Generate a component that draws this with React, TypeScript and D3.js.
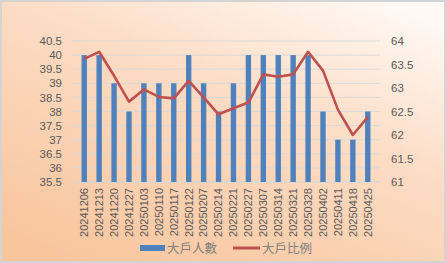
import React, { useRef, useEffect } from 'react';
import * as d3 from 'd3';

const dates = ['20241206', '20241213', '20241220', '20241227', '20250103', '20250110', '20250117', '20250122', '20250207', '20250214',
    '20250221', '20250227', '20250307', '20250314', '20250321', '20250328', '20250402', '20250411', '20250418', '20250425'];
const holders = [40, 40, 39, 38, 39, 39, 39, 40, 39, 38, 39, 40, 40, 40, 40, 40, 38, 37, 37, 38];
const ratio = [63.62, 63.77, 63.26, 62.71, 62.97, 62.81, 62.78, 63.15, 62.8, 62.44,
    62.57, 62.69, 63.29, 63.24, 63.29, 63.77, 63.37, 62.54, 62.0, 62.38];
const leftTicks = [35.5, 36, 36.5, 37, 37.5, 38, 38.5, 39, 39.5, 40, 40.5];
const rightTicks = [61, 61.5, 62, 62.5, 63, 63.5, 64];
const seriesNames = ['大戶人數', '大戶比例'];

const App = () => {
    const svgRef = useRef(null);

    useEffect(() => {
        const width = 446;
        const height = 263;
        const margin = { top: 41, right: 66, bottom: 81, left: 72 };
        const svg = d3.select(svgRef.current);
        svg.selectAll("*").remove();
        svg.attr("width", width).attr("height", height);

        const defs = svg.append("defs");
        const grad = defs.append("linearGradient").attr("id", "bg")
            .attr("x1", "85%").attr("y1", "0%").attr("x2", "15%").attr("y2", "100%");
        grad.append("stop").attr("offset", "0%").attr("stop-color", "#fff8f3");
        grad.append("stop").attr("offset", "40%").attr("stop-color", "#fcdcc4");
        grad.append("stop").attr("offset", "100%").attr("stop-color", "#f8c59d");

        svg.append("rect").attr("x", 1).attr("y", 1).attr("width", width - 2).attr("height", height - 2)
            .attr("fill", "url(#bg)").attr("stroke", "#d4d4d4").attr("stroke-width", 2);

        const x = d3.scaleBand().domain(dates)
            .range([margin.left, width - margin.right]).padding(0.64);
        const yL = d3.scaleLinear().domain([35.5, 40.5]).range([height - margin.bottom, margin.top]);
        const yR = d3.scaleLinear().domain([61, 64]).range([height - margin.bottom, margin.top]);

        const font = "'Liberation Sans', 'DejaVu Sans', sans-serif";
        const fmt = (d) => String(d);

        svg.append("g").selectAll("line").data(leftTicks).join("line")
            .attr("x1", margin.left).attr("x2", width - margin.right)
            .attr("y1", d => yL(d)).attr("y2", d => yL(d))
            .attr("stroke", d => d === 35.5 ? "#c9d7e6" : "#d9d9d9").attr("stroke-width", 1);

        svg.append("g").selectAll("rect").data(holders).join("rect")
            .attr("x", (d, i) => x(dates[i]))
            .attr("y", d => yL(d))
            .attr("width", x.bandwidth())
            .attr("height", d => yL(35.5) - yL(d))
            .attr("fill", "#4f81bd");

        const line = d3.line<number>()
            .x((d, i) => x(dates[i]) + x.bandwidth() / 2)
            .y(d => yR(d));
        svg.append("path").datum(ratio)
            .attr("d", line)
            .attr("fill", "none")
            .attr("stroke", "#c0504d")
            .attr("stroke-width", 2.6)
            .attr("stroke-linejoin", "round");

        const yAxisL = d3.axisLeft(yL).tickValues(leftTicks).tickFormat(fmt).tickSize(0).tickPadding(10);
        svg.append("g").attr("transform", `translate(${margin.left},0)`)
            .call(yAxisL)
            .call(g => g.select(".domain").remove())
            .selectAll("text").attr("font-family", font).attr("font-size", 11.5).attr("fill", "#595959");

        const yAxisR = d3.axisRight(yR).tickValues(rightTicks).tickFormat(fmt).tickSize(0).tickPadding(11);
        svg.append("g").attr("transform", `translate(${width - margin.right},0)`)
            .call(yAxisR)
            .call(g => g.select(".domain").remove())
            .selectAll("text").attr("font-family", font).attr("font-size", 11.5).attr("fill", "#595959");

        svg.append("g").attr("transform", `translate(0,${height - margin.bottom})`)
            .call(d3.axisBottom(x).tickSize(0))
            .call(g => g.select(".domain").remove())
            .selectAll("text")
            .attr("transform", "rotate(-90)")
            .attr("x", -6)
            .attr("y", 0)
            .attr("dy", "0.35em")
            .style("text-anchor", "end")
            .attr("font-family", font).attr("font-size", 11).attr("fill", "#595959");

        const leg = svg.append("g").attr("font-family", "'Noto Sans CJK TC', sans-serif").attr("font-size", 12.5).attr("fill", "#7f7f7f");
        leg.append("rect").attr("x", 140).attr("y", 245).attr("width", 25).attr("height", 6).attr("fill", "#4f81bd");
        leg.append("text").attr("x", 167).attr("y", 253).text(seriesNames[0]);
        leg.append("line").attr("x1", 233).attr("x2", 260).attr("y1", 248).attr("y2", 248)
            .attr("stroke", "#c0504d").attr("stroke-width", 3);
        leg.append("text").attr("x", 262).attr("y", 253).text(seriesNames[1]);
    }, []);

    return <svg ref={svgRef} style={{ position: 'absolute', left: 0, top: 0 }}></svg>;
};

export default App;
